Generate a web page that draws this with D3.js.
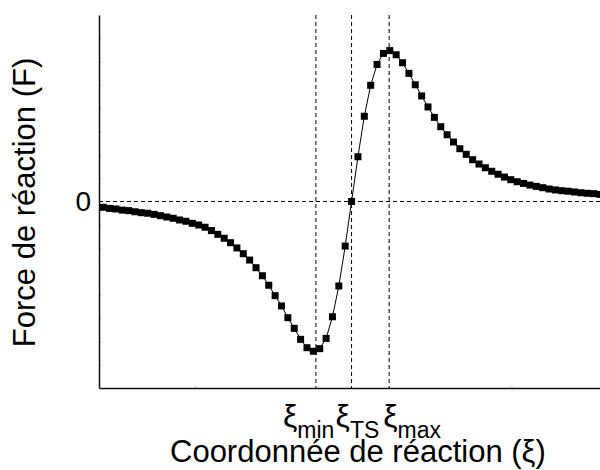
<!DOCTYPE html>
<html>
<head>
<meta charset="utf-8">
<script src="https://cdn.jsdelivr.net/npm/d3@7"></script>
<style>
  html, body { margin: 0; padding: 0; background: #fff; }
  svg { display: block; font-family: "Liberation Sans", Arial, sans-serif; }
</style>
</head>
<body>
<svg id="chart" width="600" height="470"></svg>
<script>
// ---- data ----
const xi = [0,1,2,3,4,5,6,7,8,9,10,11,12,13,14,15,16,17,18,19,20,21,22,23,24,25,26,27,28,29,
            30,31,32,33,34,35,36,37,38,39,40,41,42,43,44,45,46,47,48,49,50,51,52,53,54,55,56,57,58,59,
            60,61,62,63,64,65,66,67,68,69,70,71,72,73,74,75,76,77,78];
const force = [-0.031,-0.037,-0.040,-0.046,-0.049,-0.055,-0.060,-0.063,-0.069,-0.076,
               -0.083,-0.090,-0.099,-0.106,-0.117,-0.126,-0.138,-0.156,-0.176,-0.197,
               -0.221,-0.249,-0.280,-0.314,-0.355,-0.398,-0.449,-0.505,-0.560,-0.623,
               -0.680,-0.739,-0.784,-0.803,-0.789,-0.734,-0.618,-0.453,-0.239,0.000,
               0.240,0.457,0.623,0.735,0.794,0.809,0.787,0.744,0.687,0.626,
               0.566,0.507,0.451,0.401,0.358,0.319,0.283,0.253,0.224,0.201,
               0.181,0.162,0.146,0.131,0.117,0.106,0.097,0.088,0.081,0.074,
               0.067,0.062,0.058,0.055,0.051,0.047,0.044,0.042,0.038];
const markerXi = [33.4, 39, 44.9];
const markerBase = ["ξ", "ξ", "ξ"];
const markerSub = ["min", "TS", "max"];
const yTickLabels = [0];
const yMinorTicks = [-0.875,-0.75,-0.625,-0.5,-0.375,-0.25,-0.125,0.125,0.25,0.375,0.5,0.625,0.75,0.875];
const xMinorTicks = [14.4, 64.1];
const xLabel = "Coordonnée de réaction (ξ)";
const yLabel = "Force de réaction (F)";

// ---- layout ----
const mLeft = 99, mRight = 600, mTop = 15, mBottom = 388;
const labelDx = [-33, -16, -6];

const svg = d3.select("#chart");
const x = d3.scaleLinear().domain([-0.65, 78]).range([mLeft, mRight]);
const y = d3.scaleLinear().domain([-1, 1]).range([mBottom, mTop]);

// faint minor ticks
svg.append("g")
  .attr("transform", `translate(${mLeft},0)`)
  .call(d3.axisRight(y).tickValues(yMinorTicks).tickSize(2.5).tickFormat(""))
  .call(g => g.select(".domain").remove())
  .call(g => g.selectAll("line").attr("stroke", "#c8c8c8"));
svg.append("g")
  .attr("transform", `translate(0,${mBottom})`)
  .call(d3.axisTop(x).tickValues(xMinorTicks).tickSize(2.5).tickFormat(""))
  .call(g => g.select(".domain").remove())
  .call(g => g.selectAll("line").attr("stroke", "#c8c8c8"));

// dashed guide lines
const dash = "4,3";
svg.append("line")
  .attr("x1", mLeft).attr("x2", mRight)
  .attr("y1", y(0)).attr("y2", y(0))
  .attr("stroke", "#000").attr("stroke-width", 1).attr("stroke-dasharray", dash);
svg.selectAll("line.vmark").data(markerXi).join("line")
  .attr("class", "vmark")
  .attr("x1", d => x(d)).attr("x2", d => x(d))
  .attr("y1", mTop).attr("y2", mBottom)
  .attr("stroke", "#000").attr("stroke-width", 1).attr("stroke-dasharray", dash);

// axes lines
svg.append("g")
  .attr("transform", `translate(${mLeft},0)`)
  .call(d3.axisLeft(y).tickValues(yTickLabels).tickSize(0).tickPadding(8).tickFormat(d3.format("d")))
  .call(g => g.select(".domain").attr("stroke", "#111").attr("stroke-width", 1.5))
  .call(g => g.selectAll("text").attr("font-size", 28).attr("fill", "#000")
    .attr("font-family", "'Liberation Sans', Arial, sans-serif"));
svg.append("g")
  .attr("transform", `translate(0,${mBottom})`)
  .call(d3.axisBottom(x).tickValues([]).tickSize(0))
  .call(g => g.select(".domain").attr("stroke", "#111").attr("stroke-width", 1.5));

// data line + square markers
const pts = xi.map((d, i) => [d, force[i]]);
svg.append("clipPath").attr("id", "clip")
  .append("rect").attr("x", mLeft).attr("y", 0).attr("width", mRight - mLeft).attr("height", mBottom);
const plot = svg.append("g").attr("clip-path", "url(#clip)");
plot.append("path")
  .datum(pts)
  .attr("fill", "none").attr("stroke", "#000").attr("stroke-width", 1)
  .attr("d", d3.line().x(d => x(d[0])).y(d => y(d[1])));
const s = 7;
plot.selectAll("rect.pt").data(pts).join("rect")
  .attr("class", "pt")
  .attr("x", d => x(d[0]) - s / 2).attr("y", d => y(d[1]) - s / 2)
  .attr("width", s).attr("height", s).attr("fill", "#000");

// marker labels (ξ with subscripts)
const lab = svg.selectAll("text.mlab").data(markerXi).join("text")
  .attr("class", "mlab")
  .attr("x", (d, i) => x(d) + labelDx[i])
  .attr("y", 427)
  .attr("fill", "#000");
lab.append("tspan").attr("font-size", 32).text((d, i) => markerBase[i]);
lab.append("tspan").attr("font-size", 23).attr("dy", 11).text((d, i) => markerSub[i]);

// axis titles
svg.append("text")
  .attr("x", 170).attr("y", 462)
  .attr("text-anchor", "start").attr("font-size", 31).attr("fill", "#000")
  .text(xLabel);
svg.append("text")
  .attr("transform", `translate(35,${(mTop + mBottom) / 2 + 1}) rotate(-90)`)
  .attr("text-anchor", "middle").attr("font-size", 31).attr("fill", "#000")
  .text(yLabel);
</script>
</body>
</html>
